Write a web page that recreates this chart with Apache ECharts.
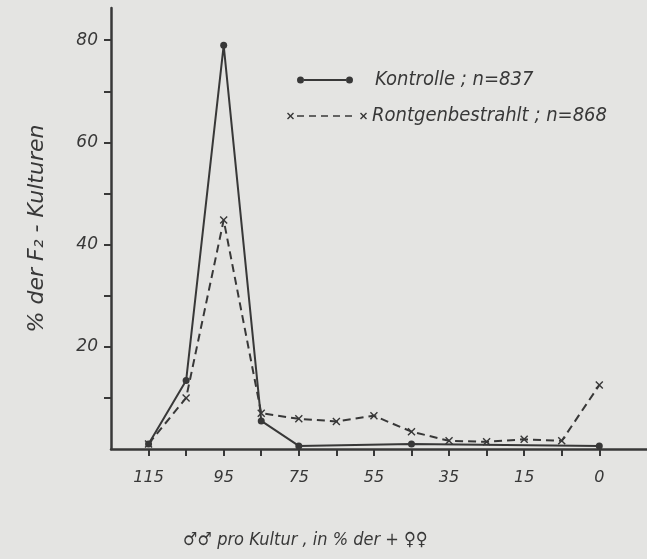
<!DOCTYPE html>
<html>
<head>
<meta charset="utf-8">
<script src="https://cdn.jsdelivr.net/npm/echarts@6/dist/echarts.min.js"></script>
<style>
html,body{margin:0;padding:0;background:#e4e4e2;}
#chart{width:647px;height:559px;}
</style>
</head>
<body>
<div id="chart"></div>
<script>
// categories: ♂♂ per culture, in % of ♀♀
const categories = ["115","105","95","85","75","65","55","45","35","25","15","5","0"];
const labelledCategories = ["115","95","75","55","35","15","0"];
// % der F2-Kulturen
const kontrolle = [1.0, 13.4, 79, 5.5, 0.6, null, null, 1.0, null, null, null, null, 0.6];
const roentgen  = [1.0, 10.0, 44.8, 7.0, 5.9, 5.4, 6.5, 3.4, 1.6, 1.4, 1.9, 1.6, 12.5];
const yLabels = [20, 40, 60, 80];
const yTicks = [10, 20, 30, 40, 50, 60, 70, 80];

const ink = '#383838';
const xPos = categories.map((c, i) => i + 1);
const toPoints = arr => arr.map((v, i) => [xPos[i], v]);

const crossSym = 'path://M0,1L1,0L4,3L7,0L8,1L5,4L8,7L7,8L4,5L1,8L0,7L3,4Z';
const legendIcon1 = 'path://M0,4A3.5,3.5,0,1,1,7,4A3.5,3.5,0,1,1,0,4Z M7,3L49,3L49,5L7,5Z M49,4A3.5,3.5,0,1,1,56,4A3.5,3.5,0,1,1,49,4Z';
const legendIcon2 = 'path://M0,1L1,0L3.5,2.5L6,0L7,1L4.5,3.5L7,6L6,7L3.5,4.5L1,7L0,6L2.5,3.5Z' +
  ' M10,2.7L17,2.7L17,4.3L10,4.3Z M22,2.7L29,2.7L29,4.3L22,4.3Z M34,2.7L41,2.7L41,4.3L34,4.3Z' +
  ' M46,2.7L53,2.7L53,4.3L46,4.3Z M58,2.7L65,2.7L65,4.3L58,4.3Z' +
  ' M73,1L74,0L76.5,2.5L79,0L80,1L77.5,3.5L80,6L79,7L76.5,4.5L74,7L73,6L75.5,3.5Z';

const fontText = '"DejaVu Sans Condensed", "Liberation Sans Narrow", "DejaVu Sans", sans-serif';
const fontNum = '"DejaVu Sans", sans-serif';

const chart = echarts.init(document.getElementById('chart'), null, {renderer: 'canvas'});
chart.setOption({
  backgroundColor: '#e4e4e2',
  animation: false,
  title: {
    text: '♂♂ pro Kultur , in % der + ♀♀',
    left: 183, top: 531,
    padding: 0,
    textStyle: {fontFamily: fontText, fontSize: 18, fontStyle: 'italic', fontWeight: 'normal', color: ink}
  },
  legend: [
    {
      data: [{name: 'Kontrolle ; n=837', icon: legendIcon1}],
      left: 297, top: 70, padding: 0,
      itemWidth: 56, itemHeight: 8,
      selectedMode: false,
      itemStyle: {color: ink, borderWidth: 0},
      textStyle: {fontFamily: fontText, fontSize: 20, fontStyle: 'italic', color: ink, padding: [0, 0, 0, 17]}
    },
    {
      data: [{name: 'Rontgenbestrahlt ; n=868', icon: legendIcon2}],
      left: 287, top: 106, padding: 0,
      itemWidth: 80, itemHeight: 7,
      selectedMode: false,
      itemStyle: {color: ink, borderWidth: 0},
      textStyle: {fontFamily: fontText, fontSize: 20, fontStyle: 'italic', color: ink}
    }
  ],
  grid: {left: 111, right: 0, top: 8, bottom: 110, containLabel: false, outerBoundsMode: 'none'},
  xAxis: {
    type: 'value',
    min: 0, max: 14.27,
    axisLine: {show: true, lineStyle: {color: ink, width: 2.5}},
    axisTick: {show: true, customValues: xPos, length: 7, inside: false, lineStyle: {color: ink, width: 2}},
    axisLabel: {
      customValues: xPos.filter((p, i) => labelledCategories.includes(categories[i])),
      formatter: v => categories[Math.round(v) - 1] || '',
      margin: 21,
      fontFamily: fontNum, fontSize: 16, fontStyle: 'italic', color: ink
    },
    splitLine: {show: false}
  },
  yAxis: {
    type: 'value',
    min: 0, max: 86.3, interval: 10,
    name: '% der F₂ - Kulturen',
    nameLocation: 'middle',
    nameRotate: 90,
    nameGap: 63,
    nameTextStyle: {fontFamily: fontNum, fontSize: 22, fontStyle: 'italic', color: ink},
    axisLine: {show: true, lineStyle: {color: ink, width: 2.5}},
    axisTick: {show: true, customValues: yTicks, length: 7, lineStyle: {color: ink, width: 2}},
    axisLabel: {
      customValues: yLabels,
      formatter: v => yLabels.includes(v) ? String(v) : '',
      margin: 13,
      fontFamily: fontNum, fontSize: 17, fontStyle: 'italic', color: ink
    },
    splitLine: {show: false}
  },
  series: [
    {
      name: 'Kontrolle ; n=837',
      type: 'line',
      data: toPoints(kontrolle),
      connectNulls: true,
      color: ink,
      symbol: 'circle',
      symbolSize: 7,
      showAllSymbol: true,
      lineStyle: {color: ink, width: 2},
      itemStyle: {color: ink},
      z: 3
    },
    {
      name: 'Rontgenbestrahlt ; n=868',
      type: 'line',
      data: toPoints(roentgen),
      color: ink,
      symbol: crossSym,
      symbolSize: 8,
      showAllSymbol: true,
      lineStyle: {color: ink, width: 2, type: [8, 5]},
      itemStyle: {color: ink},
      z: 2
    }
  ]
});
</script>
</body>
</html>
